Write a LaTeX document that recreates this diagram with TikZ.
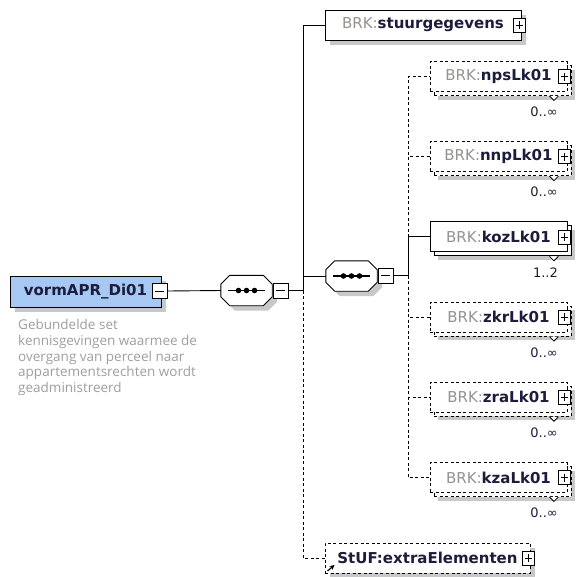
\documentclass[tikz,border=0pt]{standalone}
\usepackage{fontspec}
\setmainfont{DejaVu Sans}
\newfontfamily\descfont{Open Sans}
\usetikzlibrary{shadows}

\definecolor{boxblue}{RGB}{166,200,242}
\definecolor{namecol}{RGB}{28,28,60}
\definecolor{prefixcol}{RGB}{150,146,142}
\definecolor{desccol}{RGB}{158,158,158}
\definecolor{shadowcol}{RGB}{200,200,200}

\newcommand{\brk}[1]{{\color{prefixcol}BRK:}\textbf{#1}}
% octagon with the sequence symbol, drawn over a named node
\newcommand{\seqframe}[1]{%
  \path[draw,line width=0.9pt,fill=white,boxshadow]
    ([xshift=9pt]#1.north west) -- ([xshift=-9pt]#1.north east) -- ([yshift=-9pt]#1.north east)
    -- ([yshift=9pt]#1.south east) -- ([xshift=-9pt]#1.south east) -- ([xshift=9pt]#1.south west)
    -- ([yshift=9pt]#1.south west) -- ([yshift=-9pt]#1.north west) -- cycle;
  \path[draw,line width=1.1pt] ([xshift=7pt]#1.west) -- ([xshift=-7pt]#1.east);
  \fill[black] ([xshift=-8pt]#1.center) circle[radius=2.8pt] (#1.center) circle[radius=2.8pt]
    ([xshift=8pt]#1.center) circle[radius=2.8pt];}

\begin{document}
\begin{tikzpicture}[x=1pt,y=-1pt,
  elem/.style={draw, line width=0.9pt, fill=white, minimum width=#1, minimum height=30pt,
    inner sep=0pt, text=namecol, font=\fontsize{15}{18}\selectfont},
  boxshadow/.style={general shadow={fill=shadowcol, shadow xshift=5pt, shadow yshift=-5pt}},
  stack/.style={general shadow={fill=shadowcol, shadow xshift=8pt, shadow yshift=-8pt},
    general shadow={draw, fill=white, line width=0.9pt, shadow xshift=4pt, shadow yshift=-4pt, #1}},
  stack/.default={},
  optline/.style={dash pattern=on 3pt off 2.5pt},
  plusbox/.style={draw, fill=white, line width=0.8pt, minimum width=12pt, minimum height=14pt, inner sep=0pt,
    path picture={\draw[line width=0.8pt]
      ([xshift=2.5pt]path picture bounding box.west) -- ([xshift=-2.5pt]path picture bounding box.east)
      ([yshift=-3pt]path picture bounding box.north) -- ([yshift=3pt]path picture bounding box.south);}},
  minusbox/.style={draw, fill=white, line width=0.8pt, minimum size=15pt, inner sep=0pt,
    path picture={\draw[line width=0.8pt]
      ([xshift=3pt]path picture bounding box.west) -- ([xshift=-3pt]path picture bounding box.east);}},
  seqnode/.style={minimum width=51pt, minimum height=30pt, inner sep=0pt},
  occ/.style={anchor=east, inner sep=0pt, text=namecol, font=\fontsize{13}{15}\selectfont},
  wire/.style={draw, line width=0.9pt}]
\useasboundingbox (0,0) rectangle (578,576);

% root element
\node[elem=151pt, fill=boxblue, minimum height=31pt, boxshadow] (root) at (85.5,291.5) {\textbf{vormAPR\_Di01}};
\node[minusbox] (rootm) at (159.5,291) {};
\node[anchor=north west, inner sep=0pt, align=left, text=desccol, font=\descfont\fontsize{13.5}{15.8}\selectfont] (desc) at (18,319)
  {Gebundelde set\\kennisgevingen waarmee de\\overgang van perceel naar\\appartementsrechten wordt\\geadministreerd};

% sequences
\node[seqnode] (seq1) at (246.5,290.5) {};
\seqframe{seq1}
\node[minusbox] (seq1m) at (280.5,290.5) {};
\node[seqnode] (seq2) at (351.5,276) {};
\seqframe{seq2}
\node[minusbox] (seq2m) at (385.5,275.5) {};
\coordinate (j1) at (303,290.5);
\coordinate (j2) at (408,275.5);

% children of first sequence
\node[elem=196pt, boxshadow] (stuur) at (423,25) {\brk{stuurgegevens}\hspace{14pt}};
\node[plusbox] (stuurp) at (519.5,25) {};
\node[elem=205pt, optline, boxshadow] (extra) at (427.5,558) {\textbf{StUF:extraElementen}\hspace{14pt}};
\node[plusbox] (extrap) at (528,558) {};

% children of second sequence
\node[elem=137pt, optline, stack=optline] (nps) at (498.5,76.5) {\brk{npsLk01}\hspace{12pt}};
\node[plusbox] (npsp) at (564.5,76.5) {};
\node[elem=137pt, optline, stack=optline] (nnp) at (498.5,156.7) {\brk{nnpLk01}\hspace{12pt}};
\node[plusbox] (nnpp) at (564.5,156.7) {};
\node[elem=137pt, stack] (koz) at (498.5,236.9) {\brk{kozLk01}\hspace{12pt}};
\node[plusbox] (kozp) at (564.5,236.9) {};
\node[elem=137pt, optline, stack=optline] (zkr) at (498.5,317.1) {\brk{zkrLk01}\hspace{12pt}};
\node[plusbox] (zkrp) at (564.5,317.1) {};
\node[elem=137pt, optline, stack=optline] (zra) at (498.5,397.3) {\brk{zraLk01}\hspace{12pt}};
\node[plusbox] (zrap) at (564.5,397.3) {};
\node[elem=137pt, optline, stack=optline] (kza) at (498.5,477.5) {\brk{kzaLk01}\hspace{12pt}};
\node[plusbox] (kzap) at (564.5,477.5) {};

% occurrences
\node[occ] (npsocc) at (558,112) {0..∞};
\node[occ] (nnpocc) at (558,192.2) {0..∞};
\node[occ] (kozocc) at (558,272.4) {1..2};
\node[occ] (zkrocc) at (558,352.6) {0..∞};
\node[occ] (zraocc) at (558,432.8) {0..∞};
\node[occ] (kzaocc) at (558,513) {0..∞};
\path[draw,line width=0.8pt,fill=white] ([xshift=-18pt,yshift=-4pt]nps.south east) -- ++(4.5,4.5) -- ++(4.5,-4.5);
\path[draw,line width=0.8pt,fill=white] ([xshift=-18pt,yshift=-4pt]nnp.south east) -- ++(4.5,4.5) -- ++(4.5,-4.5);
\path[draw,line width=0.8pt,fill=white] ([xshift=-18pt,yshift=-4pt]koz.south east) -- ++(4.5,4.5) -- ++(4.5,-4.5);
\path[draw,line width=0.8pt,fill=white] ([xshift=-18pt,yshift=-4pt]zkr.south east) -- ++(4.5,4.5) -- ++(4.5,-4.5);
\path[draw,line width=0.8pt,fill=white] ([xshift=-18pt,yshift=-4pt]zra.south east) -- ++(4.5,4.5) -- ++(4.5,-4.5);
\path[draw,line width=0.8pt,fill=white] ([xshift=-18pt,yshift=-4pt]kza.south east) -- ++(4.5,4.5) -- ++(4.5,-4.5);

% reference arrow
\path[draw,line width=1.2pt,-stealth] ([xshift=3pt,yshift=2.5pt]extra.south west) -- ++(7,-6);

% connectors
\path[wire] (rootm.east) -- (seq1.west);
\path[wire] (seq1m.east) -- (j1);
\path[wire] (j1) |- (stuur.west);
\path[wire] (j1) |- (seq2.west);
\path[wire,optline] (j1) |- (extra.west);
\path[wire] (seq2m.east) -- (j2);
\path[wire] (j2) |- (koz.west);
\path[wire,optline] (j2) |- (nps.west);
\path[wire,optline] (j2) |- (nnp.west);
\path[wire,optline] (j2) |- (zkr.west);
\path[wire,optline] (j2) |- (zra.west);
\path[wire,optline] (j2) |- (kza.west);
\end{tikzpicture}
\end{document}
